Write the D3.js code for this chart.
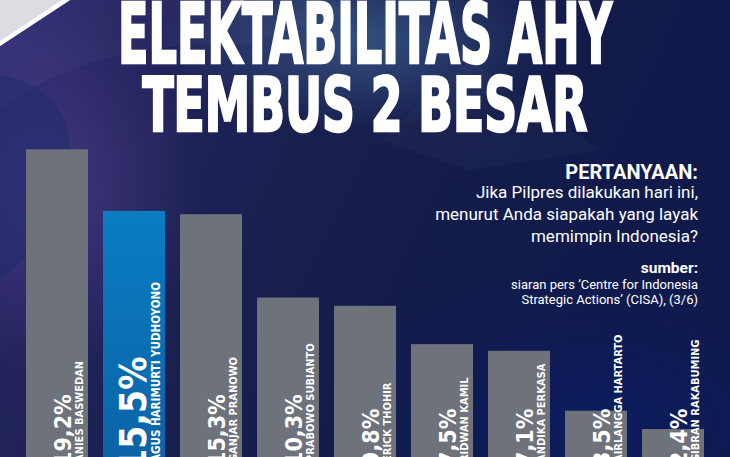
<!DOCTYPE html>
<html><head><meta charset="utf-8">
<script src="https://cdn.jsdelivr.net/npm/d3@7"></script>
<style>html,body{margin:0;padding:0;background:#141c4a;overflow:hidden}svg{display:block}</style>
</head><body>
<svg id="c" width="730" height="457"></svg>
<script>
const names = ["ANIES BASWEDAN","AGUS HARIMURTI YUDHOYONO","GANJAR PRANOWO","PRABOWO SUBIANTO","ERICK THOHIR","RIDWAN KAMIL","ANDIKA PERKASA","AIRLANGGA HARTARTO","GIBRAN RAKABUMING"];
const values = [19.2,15.5,15.3,10.3,9.8,7.5,7.1,3.5,2.4];
const highlight = ["AGUS HARIMURTI YUDHOYONO"];
const titleLines = ["ELEKTABILITAS AHY","TEMBUS 2 BESAR"];
const questionLines = ["Jika Pilpres dilakukan hari ini,","menurut Anda siapakah yang layak","memimpin Indonesia?"];
const sourceLines = ["siaran pers \u2018Centre for Indonesia","Strategic Actions\u2019 (CISA), (3/6)"];

const W=730,H=457;
const svg=d3.select("#c");
const defs=svg.append("defs");
const bgG=defs.append("linearGradient").attr("id","bg").attr("x1","0").attr("y1","0").attr("x2","1").attr("y2","0.3");
[["0","#2d2b74"],["0.18","#24235f"],["0.45","#19204f"],["0.75","#131b4a"],["1","#101a4a"]].forEach(s=>bgG.append("stop").attr("offset",s[0]).attr("stop-color",s[1]));
const rg=defs.append("radialGradient").attr("id","glowL").attr("cx","0.5").attr("cy","0.5").attr("r","0.5");
rg.append("stop").attr("offset","0").attr("stop-color","#4c4088").attr("stop-opacity",0.7);
rg.append("stop").attr("offset","1").attr("stop-color","#4c4088").attr("stop-opacity",0);
const rg2=defs.append("radialGradient").attr("id","glowT").attr("cx","0.5").attr("cy","0.5").attr("r","0.5");
rg2.append("stop").attr("offset","0").attr("stop-color","#3b5f90").attr("stop-opacity",0.75);
rg2.append("stop").attr("offset","1").attr("stop-color","#3b5f90").attr("stop-opacity",0);
const rg3=defs.append("radialGradient").attr("id","glowB").attr("cx","0.5").attr("cy","0.5").attr("r","0.5");
rg3.append("stop").attr("offset","0").attr("stop-color","#0b1d60").attr("stop-opacity",0.9);
rg3.append("stop").attr("offset","1").attr("stop-color","#0b1d60").attr("stop-opacity",0);
const blueG=defs.append("linearGradient").attr("id","blue").attr("x1","0").attr("y1","0").attr("x2","0").attr("y2","1");
blueG.append("stop").attr("offset","0").attr("stop-color","#0a7dc2");
blueG.append("stop").attr("offset","1").attr("stop-color","#0b62a6");

svg.append("rect").attr("width",W).attr("height",H).attr("fill","url(#bg)");
svg.append("ellipse").attr("cx",50).attr("cy",190).attr("rx",150).attr("ry",190).attr("fill","url(#glowL)");
svg.append("ellipse").attr("cx",360).attr("cy",40).attr("rx",200).attr("ry",90).attr("fill","url(#glowT)");
svg.append("ellipse").attr("cx",600).attr("cy",420).attr("rx",260).attr("ry",150).attr("fill","url(#glowB)");
// decorative facets
svg.append("path").attr("d","M0,110 C60,60 160,40 240,45 L360,10 L330,0 L0,0 Z").attr("fill","#ffffff").attr("opacity",0.03);
svg.append("path").attr("d","M0,280 C40,250 70,200 70,150 C70,100 30,80 0,75 Z").attr("fill","#1d2a6a").attr("opacity",0.5);
svg.append("path").attr("d","M380,140 L470,60 L600,150 L470,170 Z").attr("fill","#ffffff").attr("opacity",0.025);
// top-left corner
svg.append("path").attr("d","M0,0 L70,0 L0,46 Z").attr("fill","#dcdce2");
svg.append("path").attr("d","M62,0 L70,0 L0,46 L0,41 Z").attr("fill","#ffffff");

// title
const tl=[{t:titleLines[0],y:63,fs:84,len:494},{t:titleLines[1],y:131,fs:74,len:445}];
svg.selectAll("text.title").data(tl).join("text").attr("class","title")
  .attr("x",W/2).attr("y",d=>d.y).attr("text-anchor","middle")
  .attr("font-family","'DejaVu Sans Condensed','DejaVu Sans',sans-serif").attr("font-weight","bold")
  .attr("font-size",d=>d.fs).attr("fill","#ffffff").attr("stroke","#ffffff").attr("stroke-width",2.5)
  .attr("textLength",d=>d.len).attr("lengthAdjust","spacingAndGlyphs").text(d=>d.t);

// scales
const x=d3.scaleBand().domain(names).range([26,704]).paddingInner(0.195).paddingOuter(0);
const y=d3.scaleLinear().domain([0,20]).range([469,136]);

const g=svg.append("g");
g.selectAll("rect.bar").data(names).join("rect").attr("class","bar")
  .attr("x",d=>x(d)).attr("width",x.bandwidth())
  .attr("y",(d,i)=>y(values[i])).attr("height",(d,i)=>y(0)-y(values[i]))
  .attr("fill",d=>highlight.includes(d)?"url(#blue)":"#6d727b");

const fmt=v=>d3.format(".1f")(v).replace(".",",")+"%";
// value labels
g.selectAll("text.val").data(names).join("text").attr("class","val")
  .attr("transform",(d,i)=>{const hi=highlight.includes(d);const bx=x(d)+x.bandwidth()-6-(hi?13:11);return `translate(${bx},${hi?472:466}) rotate(-90)`;})
  .attr("font-family","'DejaVu Sans Condensed','DejaVu Sans',sans-serif").attr("font-weight","bold")
  .attr("font-size",d=>highlight.includes(d)?37:23).attr("fill","#ffffff")
  .text((d,i)=>fmt(values[i]));
// name labels
g.selectAll("text.nm").data(names).join("text").attr("class","nm")
  .attr("transform",d=>`translate(${x(d)+x.bandwidth()-5},462) rotate(-90)`)
  .attr("font-family","'DejaVu Sans Condensed','DejaVu Sans',sans-serif").attr("font-weight","bold")
  .attr("font-size",d=>highlight.includes(d)?11.5:11).attr("fill","#ffffff")
  .text(d=>d);

// question block
const rx=698;
svg.append("text").attr("x",rx).attr("y",179).attr("text-anchor","end")
  .attr("font-family","Roboto,sans-serif").attr("font-weight","bold").attr("font-size",20).attr("fill","#fff").text("PERTANYAAN:");
svg.selectAll("text.q").data(questionLines).join("text").attr("class","q")
  .attr("x",rx).attr("y",(d,i)=>198+i*22).attr("text-anchor","end")
  .attr("font-family","Roboto,sans-serif").attr("font-size",17).attr("fill","#fff").text(d=>d);
svg.append("text").attr("x",rx).attr("y",273).attr("text-anchor","end")
  .attr("font-family","Roboto,sans-serif").attr("font-weight","bold").attr("font-size",15.5).attr("fill","#fff").text("sumber:");
svg.selectAll("text.s").data(sourceLines).join("text").attr("class","s")
  .attr("x",rx).attr("y",(d,i)=>289+i*15).attr("text-anchor","end")
  .attr("font-family","Roboto,sans-serif").attr("font-size",13).attr("fill","#fff").text(d=>d);
</script>
</body></html>
